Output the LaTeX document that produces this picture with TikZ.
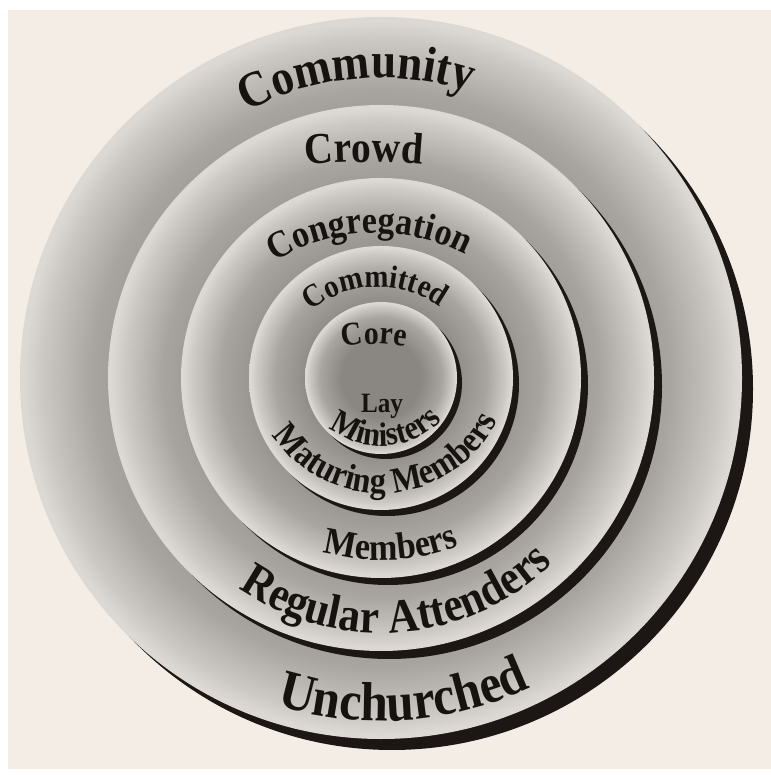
\documentclass[tikz,border=0pt]{standalone}
\usepackage{fontspec}
\newfontfamily\lblfont[FakeStretch=0.9]{Liberation Serif}
\usetikzlibrary{decorations.text,calc}
\definecolor{bgc}{HTML}{F3EDE6}
\definecolor{dk}{HTML}{8A8783}
\definecolor{md}{HTML}{A8A5A0}
\definecolor{lt}{HTML}{CCC9C4}
\definecolor{rim}{HTML}{DCD9D4}
\definecolor{shd}{HTML}{1C1714}
\definecolor{txt}{HTML}{151210}
\pgfdeclareradialshading{discshade}{\pgfpoint{0bp}{0bp}}{color(0bp)=(dk); color(13bp)=(dk); color(20bp)=(md); color(23.5bp)=(lt); color(24.7bp)=(rim); color(25bp)=(rim); color(50bp)=(rim)}
\newcommand\fz[1]{\lblfont\bfseries\fontsize{#1bp}{#1bp}\selectfont\color{txt}}
\tikzset{
  disc/.style={circle, inner sep=0pt, outer sep=0pt, shading=discshade, minimum size=#1},
  shadowdisc/.style={fill=shd},
  arclabel/.style={decorate, decoration={text along path, text align=center, text={#1}}}
}
\begin{document}
\begin{tikzpicture}[x=1bp,y=1bp]
\useasboundingbox (0,0) rectangle (771,775);
\fill[white] (0,0) rectangle (771,775);
\fill[bgc] (8,6) rectangle (771,765);
\coordinate (C) at (381,397);
% discs with drop shadows
\fill[shadowdisc] ($(C)+(11,-11)$) circle[radius=361];
\node[disc=722bp] (community) at (C) {};
\fill[shadowdisc] ($(C)+(8,-8)$) circle[radius=273];
\node[disc=546bp] (crowd) at (C) {};
\fill[shadowdisc] ($(C)+(7,-7)$) circle[radius=200];
\node[disc=400bp] (congregation) at (C) {};
\fill[shadowdisc] ($(C)+(6,-6)$) circle[radius=132];
\node[disc=264bp] (committed) at (C) {};
\fill[shadowdisc] ($(C)+(5,-5)$) circle[radius=76];
\node[disc=152bp] (core) at (C) {};
% top labels
\path[arclabel={|\fz{50}|Community}] ($(381,412)+(145:285)$) arc[start angle=145, end angle=45, radius=285];
\path[arclabel={|\fz{44}|Crowd}] ($(364,13)+(105:600)$) arc[start angle=105, end angle=75, radius=600];
\path[arclabel={|\fz{38}|Congregation}] ($(376,347)+(142:195)$) arc[start angle=142, end angle=42, radius=195];
\path[arclabel={|\fz{32}|Committed}] ($(378,382)+(161.6:106)$) arc[start angle=161.6, end angle=21.6, radius=106];
\path[arclabel={|\fz{33}|Core}] ($(374,281)+(120:150)$) arc[start angle=120, end angle=60, radius=150];
\node[anchor=base, inner sep=0pt, font=\fz{28}] (lay) at (382,362) {Lay};
% bottom labels
\path[arclabel={|\fz{34}|Ministers}] ($(381,413)+(194:84)$) arc[start angle=194, end angle=354, radius=84];
\path[arclabel={|\fz{36}|Maturing Members}] ($(381,412)+(188.5:130)$) arc[start angle=188.5, end angle=358.5, radius=130];
\path[arclabel={|\fz{38}|Members}] ($(381,437)+(232.7:222)$) arc[start angle=232.7, end angle=312.7, radius=222];
\path[arclabel={|\fz{48}|Regular Attenders}] ($(381,390)+(194.5:248)$) arc[start angle=194.5, end angle=354.5, radius=248];
\path[arclabel={|\fz{55}|Unchurched}] ($(381,404)+(234:350)$) arc[start angle=234, end angle=314, radius=350];
\end{tikzpicture}
\end{document}
